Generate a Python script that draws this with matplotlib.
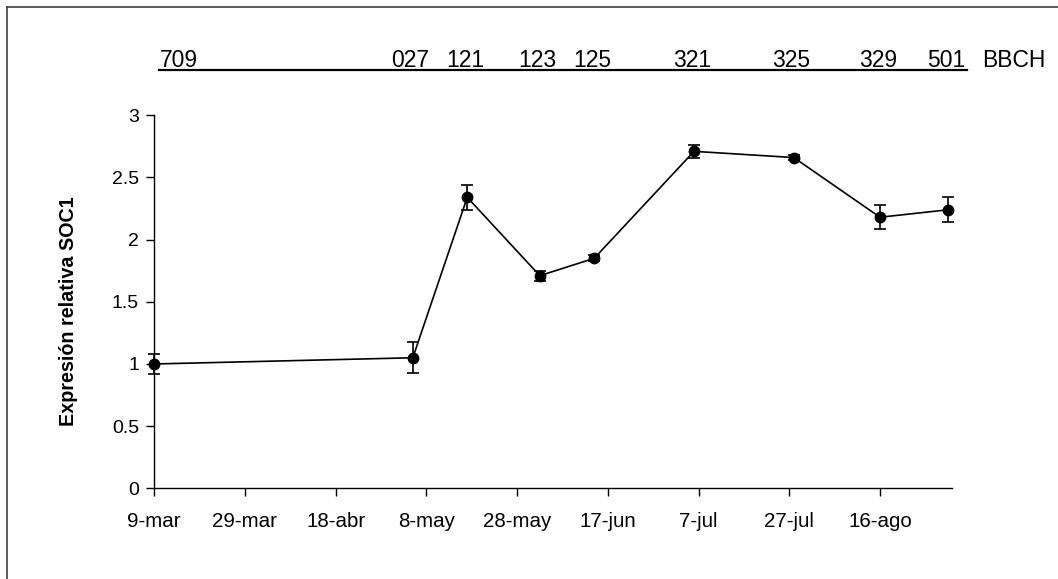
import pandas as pd
import matplotlib
matplotlib.use("Agg")
import matplotlib.pyplot as plt
import matplotlib.dates as mdates
from matplotlib.lines import Line2D
from matplotlib.transforms import blended_transform_factory

plt.rcParams['font.family'] = ['Liberation Sans', 'DejaVu Sans']

# muestreos, expresion relativa de SOC1 y error estandar
fechas = ["2009-03-09", "2009-05-05", "2009-05-17", "2009-06-02", "2009-06-14",
          "2009-07-06", "2009-07-28", "2009-08-16", "2009-08-31"]
expresion = [1.00, 1.05, 2.34, 1.71, 1.85, 2.71, 2.66, 2.18, 2.24]
error = [0.08, 0.125, 0.10, 0.04, 0.025, 0.05, 0.02, 0.097, 0.10]
bbch = ["709", "027", "121", "123", "125", "321", "325", "329", "501"]

ticks = ["2009-03-09", "2009-03-29", "2009-04-18", "2009-05-08", "2009-05-28",
         "2009-06-17", "2009-07-07", "2009-07-27", "2009-08-16"]
tick_labels = ["9-mar", "29-mar", "18-abr", "8-may", "28-may",
               "17-jun", "7-jul", "27-jul", "16-ago"]

x = mdates.date2num(pd.to_datetime(fechas))
xt = mdates.date2num(pd.to_datetime(ticks))

fig = plt.figure(figsize=(10.58, 5.79), dpi=100)
ax = fig.add_axes([0.1458, 0.1566, 0.7537, 0.6443])

ax.errorbar(x, expresion, yerr=error, color='black', lw=1.2,
            marker='o', markersize=7.5, capsize=4.5, elinewidth=1.2,
            capthick=1.2, clip_on=False, zorder=3)

ax.set_xlim(xt[0], xt[0] + 175.8)
ax.set_ylim(0, 3)
ax.set_xticks(xt)
ax.set_xticklabels(tick_labels)
ax.set_yticks([0, 0.5, 1, 1.5, 2, 2.5, 3])
ax.set_yticklabels(["0", "0.5", "1", "1.5", "2", "2.5", "3"])
ax.tick_params(axis='both', direction='out', length=6, width=1,
               labelsize=14, colors='black')
ax.tick_params(axis='x', pad=11, labelsize=14.8)
ax.tick_params(axis='y', pad=5)
for s in ['top', 'right']:
    ax.spines[s].set_visible(False)
for s in ['left', 'bottom']:
    ax.spines[s].set_linewidth(1)

ax.set_ylabel("Expresión relativa SOC1", fontsize=14.2, fontweight='bold')
ax.yaxis.set_label_coords(-0.0957, 0.475)

# estadios BBCH subrayados sobre el grafico
trans = blended_transform_factory(ax.transData, ax.transAxes)
for i, (xi, code) in enumerate(zip(x, bbch)):
    if i == 0:
        ax.text(xi + 1.2, 1.13, code, transform=trans, ha='left',
                va='baseline', fontsize=16.5, clip_on=False)
    else:
        ax.text(xi - 0.5, 1.13, code, transform=trans, ha='center',
                va='baseline', fontsize=16.5, clip_on=False)
ax.add_line(Line2D([0.006, 1.019], [1.1214, 1.1214], transform=ax.transAxes,
                   color='black', lw=1.6, clip_on=False))
ax.text(1.038, 1.13, "BBCH", transform=ax.transAxes, ha='left',
        va='baseline', fontsize=16.5, clip_on=False)

# marco del area del grafico
fig.add_artist(Line2D([0.0069, 0.0069], [0.0, 0.988], color='#404040', lw=1.2))
fig.add_artist(Line2D([0.0069, 1.0], [0.988, 0.988], color='#404040', lw=1.2))

fig.savefig("out.png", dpi=100)
